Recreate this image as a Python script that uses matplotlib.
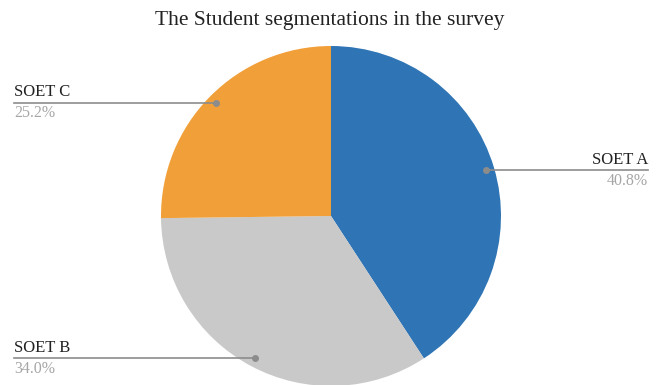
import numpy as np
import matplotlib.pyplot as plt

labels = ['SOET A', 'SOET B', 'SOET C']
shares = [40.8, 34.0, 25.2]
colors = ['#2f75b5', '#c9c9c9', '#f19f38']
label_side = [1, -1, -1]  # 1 = right, -1 = left

plt.rcParams['font.family'] = ['Liberation Serif', 'DejaVu Serif']

fig = plt.figure(figsize=(6.6, 3.85), dpi=100)
fig.text(0.5, 1 - 20 / 385, 'The Student segmentations in the survey',
         ha='center', va='center', fontsize=15.5, color='#222222')

# pie axes: centre (331, 216) px, radius 170 px
ax = fig.add_axes([(331 - 170) / 660, (385 - 216 - 170) / 385, 340 / 660, 340 / 385])
wedges, _ = ax.pie(shares, colors=colors, startangle=90, counterclock=False,
                   radius=1.0)
ax.set_xlim(-1, 1)
ax.set_ylim(-1, 1)
ax.set_aspect('equal')
ax.axis('off')

line_end = 1.865
for w, lab, val, side in zip(wedges, labels, shares, label_side):
    mid = np.deg2rad((w.theta1 + w.theta2) / 2)
    x0, y0 = 0.95 * np.cos(mid), 0.95 * np.sin(mid)
    x1 = side * line_end
    ax.plot([x0, x1], [y0, y0], color='#8c8c8c', lw=1.2, clip_on=False)
    ax.plot([x0], [y0], 'o', color='#8c8c8c', ms=4, clip_on=False)
    ha = 'right' if side > 0 else 'left'
    ax.text(x1, y0 + 0.012, lab, ha=ha, va='bottom', fontsize=12,
            color='#222222', clip_on=False)
    ax.text(x1, y0 - 0.015, f'{val:.1f}%', ha=ha, va='top', fontsize=11.5,
            color='#a6a6a6', clip_on=False)

fig.savefig('out.png', dpi=100)
